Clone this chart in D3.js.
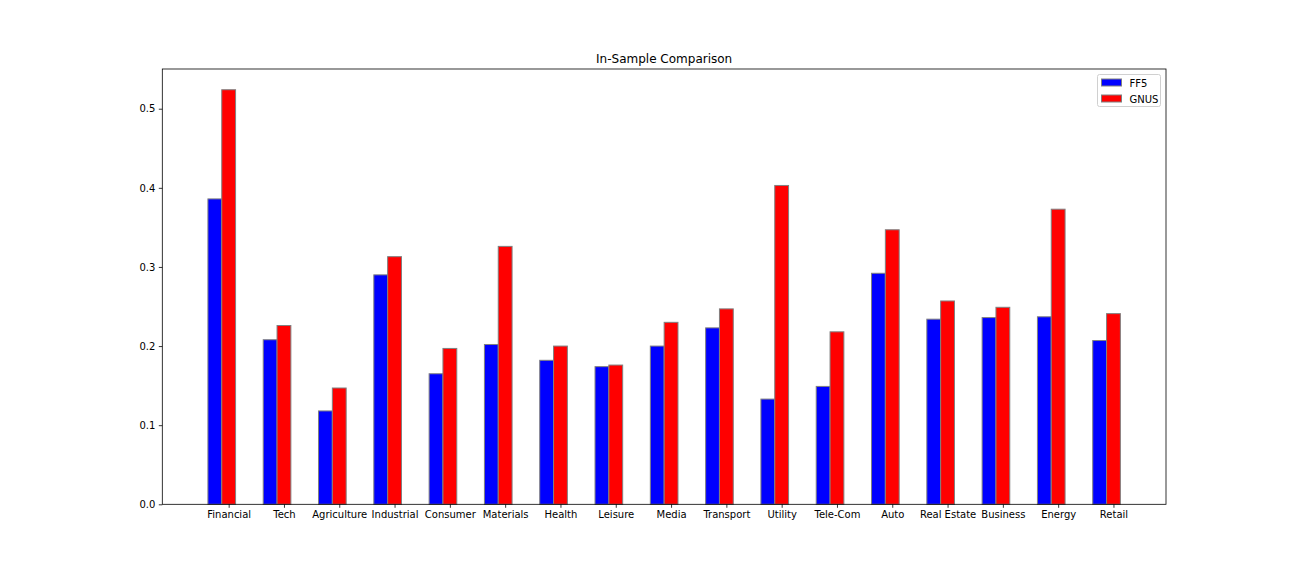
<!DOCTYPE html>
<html><head><meta charset="utf-8">
<script src="https://cdn.jsdelivr.net/npm/d3@7"></script>
<style>body{margin:0;background:#fff}svg{display:block}text{font-family:"DejaVu Sans",sans-serif}</style>
</head><body><svg id="c" width="1296" height="576"></svg>
<script>
const categories = ["Financial","Tech","Agriculture","Industrial","Consumer","Materials","Health","Leisure","Media","Transport","Utility","Tele-Com","Auto","Real Estate","Business","Energy","Retail"];
const ff5  = [0.386,0.208,0.118,0.290,0.165,0.202,0.182,0.174,0.200,0.223,0.133,0.149,0.292,0.234,0.236,0.237,0.207];
const gnus = [0.524,0.226,0.147,0.313,0.197,0.326,0.200,0.176,0.230,0.247,0.403,0.218,0.347,0.257,0.249,0.373,0.241];
const seriesNames = ["FF5","GNUS"];
const seriesColors = ["#0000ff","#ff0000"];
const yTicks = [0,0.1,0.2,0.3,0.4,0.5];
const title = "In-Sample Comparison";

const svg = d3.select("#c");
const L = 162.3, R = 1166, T = 69, B = 504.3;
const bw = 0.25;
const n = categories.length;
const x = d3.scaleLinear().domain([-0.125 - 0.825, (n-1) + 0.375 + 0.825]).range([L, R]);
const ymax = d3.max(gnus.concat(ff5)) * 1.05;
const y = d3.scaleLinear().domain([0, ymax]).range([B, T]);

const g = svg.append("g");
const series = [ff5, gnus];
series.forEach((vals, s) => {
  g.selectAll(null).data(vals).enter().append("rect")
    .attr("x", (d,i) => x(i + s*bw - bw/2))
    .attr("width", (d,i) => x(i + s*bw + bw/2) - x(i + s*bw - bw/2))
    .attr("y", d => y(d))
    .attr("height", d => y(0) - y(d))
    .attr("fill", seriesColors[s])
    .attr("stroke", "#808080")
    .attr("stroke-width", 1);
});

// axes
const xAxis = d3.axisBottom(x).tickValues(d3.range(n).map(i => i + bw))
  .tickFormat((d,i) => categories[i]).tickSize(3.5).tickPadding(3.5).tickSizeOuter(0);
const yAxis = d3.axisLeft(y).tickValues(yTicks).tickFormat(d3.format(".1f"))
  .tickSize(3.5).tickPadding(3.5).tickSizeOuter(0);
const gx = svg.append("g").attr("transform", `translate(0,${B})`).call(xAxis);
const gy = svg.append("g").attr("transform", `translate(${L},0)`).call(yAxis);
[gx, gy].forEach(a => {
  a.select(".domain").remove();
  a.selectAll("text").attr("font-size", 10).attr("fill", "#000").attr("font-family", "DejaVu Sans");
  a.selectAll("line").attr("stroke", "#000").attr("stroke-width", 0.8);
});
// frame
svg.append("rect").attr("x", L).attr("y", T).attr("width", R-L).attr("height", B-T)
  .attr("fill", "none").attr("stroke", "#000").attr("stroke-width", 0.8);

svg.append("text").attr("x", (L+R)/2).attr("y", T - 6).attr("text-anchor", "middle")
  .attr("font-size", 12).text(title);

// legend
const lg = svg.append("g").attr("transform", `translate(1097.5,74.5)`);
lg.append("rect").attr("width", 63).attr("height", 32).attr("rx", 2)
  .attr("fill", "#fff").attr("fill-opacity", 0.8).attr("stroke", "#d0d0d0");
seriesNames.forEach((nm, i) => {
  lg.append("rect").attr("x", 4).attr("y", 4.5 + i*16).attr("width", 20).attr("height", 7)
    .attr("fill", seriesColors[i]).attr("stroke", "#808080");
  lg.append("text").attr("x", 32).attr("y", 12 + i*16).attr("font-size", 10).text(nm);
});
</script></body></html>
